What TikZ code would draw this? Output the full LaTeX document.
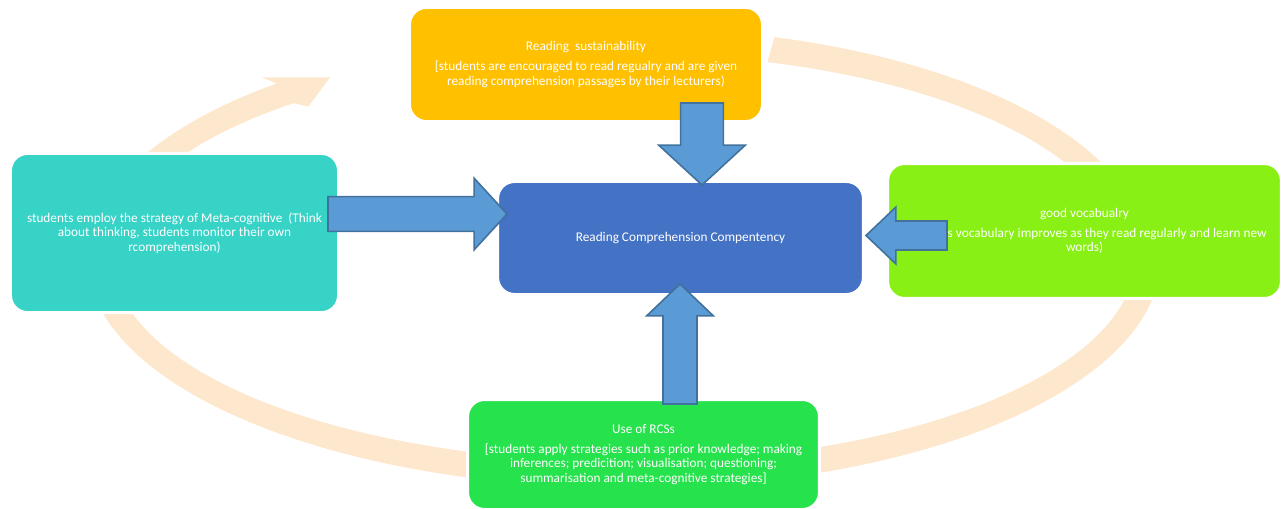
\documentclass[tikz,border=0pt]{standalone}
\usepackage{fontspec}
\setmainfont{Carlito}
\usetikzlibrary{calc}
\definecolor{ringpeach}{RGB}{254,232,205}
\definecolor{sustgold}{RGB}{255,192,0}
\definecolor{metateal}{RGB}{55,211,198}
\definecolor{rccblue}{RGB}{68,114,196}
\definecolor{vocablime}{RGB}{137,240,21}
\definecolor{rcsgreen}{RGB}{38,226,76}
\definecolor{arrowfill}{RGB}{91,155,213}
\definecolor{arrowline}{RGB}{65,113,156}
\tikzset{
  cyclebox/.style={
    draw=white,line width=2.25pt,rounded corners=0.45cm,
    text=white,align=center,inner sep=0pt,font=\fontsize{10}{11}\selectfont,
  },
  ring/.style={fill=ringpeach},
  bigarrow/.style={fill=arrowfill,draw=arrowline,line width=1.2pt},
}
% tail, tip, shaft half width, head half width, head length
\newcommand{\blockarrow}[5]{%
  \coordinate (hb) at ($(#2)!#5!(#1)$);
  \draw[bigarrow] ($(#1)!#3!90:(#2)$) -- ($(hb)!#3!90:(#2)$) -- ($(hb)!#4!90:(#2)$)
    -- (#2) -- ($(hb)!#4!-90:(#2)$) -- ($(hb)!#3!-90:(#2)$) -- ($(#1)!#3!-90:(#2)$) -- cycle;}

\begin{document}
\begin{tikzpicture}[x=0.26458cm,y=0.26458cm]
\useasboundingbox (0,0) rectangle (128.6,50.8);

%%%%%%%%%%%%%%
% Background cycle
%%%%%%%%%%%%%%
\begin{scope}[shift={(63,25)}]
  % towards Reading sustainability
  \fill[ring] (155:54.3 and 23.0) arc[start angle=155,end angle=130.6,x radius=54.3,y radius=23.0]
    -- (-36.83,18.07) -- (-30.0,18.07) -- (-32.17,15.13)
    -- (130.6:51.7 and 20.4) arc[start angle=130.6,end angle=155,x radius=51.7,y radius=20.4] -- cycle;
  % towards good vocabualry
  \fill[ring] (73.8:51.8 and 23.0) arc[start angle=73.8,end angle=20,x radius=51.8,y radius=23.0]
    -- (20:49.2 and 20.4) arc[start angle=20,end angle=73.8,x radius=49.2,y radius=20.4] -- cycle;
  % towards Use of RCSs
  \fill[ring] (-5:53.1 and 23.0) arc[start angle=-5,end angle=-72,x radius=53.1,y radius=23.0]
    -- (-72:50.5 and 20.4) arc[start angle=-72,end angle=-5,x radius=50.5,y radius=20.4] -- cycle;
  % towards Meta-cognitive
  \fill[ring] (255:54.3 and 23.0) arc[start angle=255,end angle=190,x radius=54.3,y radius=23.0]
    -- (190:51.7 and 20.4) arc[start angle=190,end angle=255,x radius=51.7,y radius=20.4] -- cycle;
\end{scope}

%%%%%%%%%%%%%%
% Boxes
%%%%%%%%%%%%%%
\node[cyclebox,fill=sustgold,minimum width=9.34cm,minimum height=3.02cm] (sust) at (58.6,44.35)
  {Reading\ \ sustainability\\[4pt]
   {[}students are encouraged to read regualry and are given\\
   reading comprehension passages by their lecturers)};

\node[cyclebox,fill=metateal,minimum width=8.68cm,minimum height=4.21cm] (meta) at (17.45,27.5)
  {students employ the strategy of Meta-cognitive\ \ (Think\\
   about thinking, students monitor their own\\
   rcomprehension)};

\node[cyclebox,fill=rccblue,minimum width=9.68cm,minimum height=2.99cm] (rcc) at (68.05,27.0)
  {Reading Comprehension Compentency};

\node[cyclebox,fill=vocablime,minimum width=10.42cm,minimum height=3.57cm] (vocab) at (108.45,27.7)
  {good vocabualry\\[4pt]
   \phantom{(student}s vocabulary improves as they read regularly and learn new\\
   words)};

\node[cyclebox,fill=rcsgreen,minimum width=9.31cm,minimum height=2.91cm] (rcs) at (64.35,5.35)
  {Use of RCSs\\[4pt]
   {[}students apply strategies such as prior knowledge; making\\
   inferences; predicition; visualisation; questioning;\\
   summarisation and meta-cognitive strategies]};

%%%%%%%%%%%%%%
% Arrows into the centre
%%%%%%%%%%%%%%
  % points
  \coordinate (sustTail) at (70.2,40.5);
  \coordinate (sustTip)  at (70.2,32.3);
  \coordinate (metaTail) at (32.8,29.4);
  \coordinate (metaTip)  at (50.7,29.4);
  \coordinate (vocabTail) at (94.7,27.25);
  \coordinate (vocabTip)  at (86.6,27.25);
  \coordinate (rcsTail) at (68.0,10.4);
  \coordinate (rcsTip)  at (68.0,22.4);

  % legs
  \blockarrow{sustTail}{sustTip}{16.1pt}{32.6pt}{30pt}
  \blockarrow{metaTail}{metaTip}{13.1pt}{27pt}{24.8pt}
  \blockarrow{vocabTail}{vocabTip}{10.9pt}{21.4pt}{22.5pt}
  \blockarrow{rcsTail}{rcsTip}{12.8pt}{25.1pt}{24pt}

\end{tikzpicture}
\end{document}
